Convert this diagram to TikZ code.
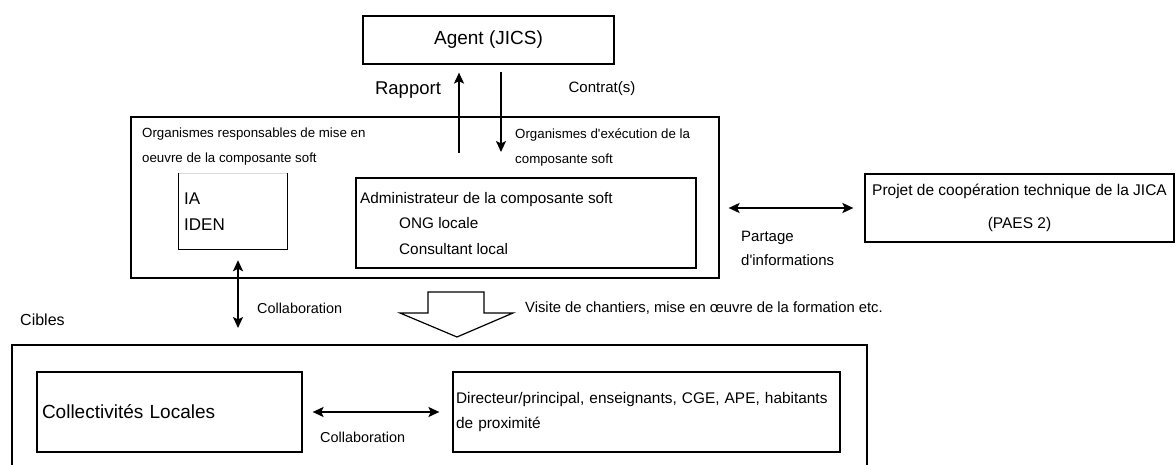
\documentclass[tikz,border=0pt]{standalone}
\usepackage{fontspec}
\setmainfont{Liberation Sans}
\usetikzlibrary{arrows.meta}
\newcommand{\fsz}[2]{\fontsize{#1}{#2}\selectfont}

\tikzset{
  box/.style={draw, line width=1.2pt, inner sep=0pt},
  txt/.style={inner sep=0pt, align=left, anchor=west},
  tip/.style={line width=2.6pt, -{Stealth[length=11pt,width=10pt,inset=2.5pt]}},
  tips/.style={line width=2.6pt, {Stealth[length=11pt,width=10pt,inset=2.5pt]}-{Stealth[length=11pt,width=10pt,inset=2.5pt]}},
}

\begin{document}
\begin{tikzpicture}[x=1pt,y=-1pt]
\useasboundingbox (0,0) rectangle (1176,465);
% agent
\node[box, minimum width=251, minimum height=48, font=\fsz{19}{23}] (agent) at (488.5,40) {Agent (JICS)};
\coordinate (rap) at (459,153);
\coordinate (con) at (501,152);
\draw[tip, shorten >=8pt] (rap) -- (rap |- agent.south);
\draw[tip, shorten <=7pt] (con |- agent.south) -- (con);
\node[txt, anchor=center, font=\fsz{18.5}{22}] (raplbl) at (408,90) {Rapport};
\node[txt, anchor=center, font=\fsz{15}{18}] (conlbl) at (602,89) {Contrat(s)};

% organismes
\node[box, minimum width=588, minimum height=161] (org) at (425,197.5) {};
\node[txt, font=\fsz{13.3}{25}] (resp) at (142,146.5) {Organismes responsables de mise en\\oeuvre de la composante soft};
\node[txt, font=\fsz{13.3}{25}] (exec) at (515,147.5) {Organismes d\textquotesingle exécution de la\\composante soft};
\node[minimum width=108, minimum height=76, inner sep=0pt] (ia) at (233,211) {};
\draw[line width=1.2pt] (ia.north west) -- (ia.south west) -- (ia.south east) -- (ia.north east);
\draw[gray!30] (ia.north west) -- (ia.north east);
\node[txt, font=\fsz{17}{26}] (ialbl) at (184,212) {IA\\IDEN};
\node[box, minimum width=340, minimum height=90] (admin) at (526,223) {};
\node[txt, font=\fsz{15.3}{25.5}] (adminlbl) at (360,223.5) {Administrateur de la composante soft\\\hspace*{39pt}ONG locale\\\hspace*{39pt}Consultant local};

% JICA
\node[box, minimum width=309, minimum height=68, align=center, font=\fsz{15.5}{33}] (jica) at (1019.5,208) {Projet de coopération technique de la JICA\\(PAES 2)};
\draw[tips, shorten <=9pt, shorten >=11pt] (org.east |- jica.west) -- (jica.west);
\node[txt, font=\fsz{15}{24}] (sharelbl) at (741,248) {Partage\\d\textquotesingle informations};

% collaboration
\coordinate (collab) at (238,328);
\draw[tips, shorten <=11pt] (collab |- ia.south) -- (collab);
\node[txt, font=\fsz{14.4}{17}] (collablbl) at (257,308) {Collaboration};
\node[txt, font=\fsz{16}{19}] (cibles) at (20,320) {Cibles};

% block arrow
\draw[line width=1.2pt] (428,292) -- (484,292) -- (484,313) -- (513,313) -- (457,337) -- (400,313) -- (428,313) -- cycle;
\node[txt, font=\fsz{14.8}{18}] (visite) at (525,308) {Visite de chantiers, mise en œuvre de la formation etc.};

% cibles
\draw[line width=1.2pt] (12,470) -- (12,345) -- (867,345) -- (867,470);
\node[box, text width=255pt, inner xsep=5pt, minimum height=80, align=left, font=\fsz{19}{23}] (coll) at (169.5,412) {Collectivités Locales};
\node[box, text width=381pt, inner xsep=3pt, minimum height=80, align=left, font=\fsz{15.4}{25}] (dir) at (646.5,412) {Directeur/principal, enseignants, CGE, APE, habitants\\de proximité};
\draw[tips, shorten <=10pt, shorten >=13pt] (coll) -- (dir);
\node[txt, font=\fsz{14.4}{17}] (collablbl2) at (320,437) {Collaboration};
\end{tikzpicture}
\end{document}
